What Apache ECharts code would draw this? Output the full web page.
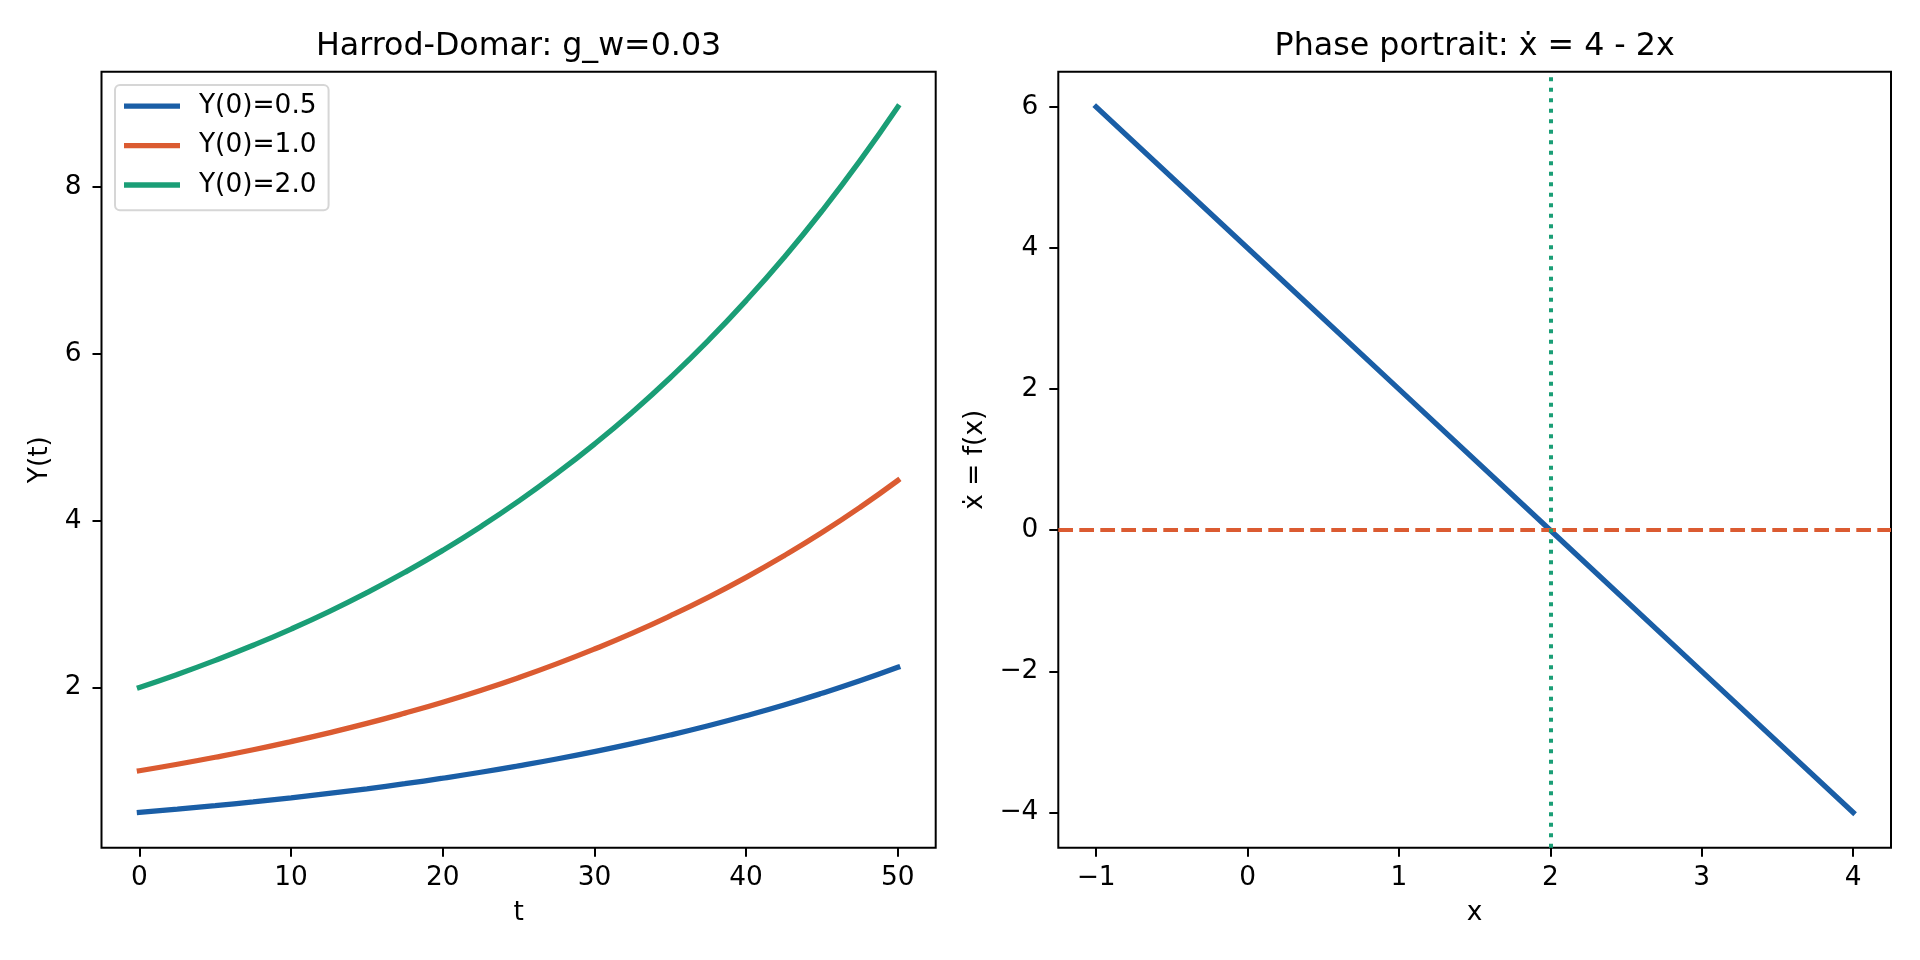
<!DOCTYPE html>
<html>
<head>
<meta charset="utf-8">
<title>Harrod-Domar</title>
<script src="https://cdn.jsdelivr.net/npm/echarts@6.0.0/dist/echarts.min.js"></script>
<style>
  html, body { margin: 0; padding: 0; background: #fff; }
  #main { width: 1920px; height: 960px; }
</style>
</head>
<body>
<div id="main"></div>
<script>
// 左图：时间轴与三条增长曲线
var tValues = [0, 2.5, 5, 7.5, 10, 12.5, 15, 17.5, 20, 22.5, 25, 27.5, 30, 32.5, 35, 37.5, 40, 42.5, 45, 47.5, 50];
var yLow  = [0.500, 0.539, 0.581, 0.626, 0.675, 0.728, 0.784, 0.845, 0.911, 0.982, 1.059, 1.141, 1.230, 1.326, 1.429, 1.540, 1.660, 1.789, 1.929, 2.079, 2.241];
var yMid  = [1.000, 1.078, 1.162, 1.252, 1.350, 1.455, 1.568, 1.691, 1.822, 1.964, 2.117, 2.282, 2.460, 2.651, 2.858, 3.080, 3.320, 3.579, 3.857, 4.158, 4.482];
var yHigh = [2.000, 2.156, 2.324, 2.505, 2.700, 2.910, 3.137, 3.381, 3.644, 3.928, 4.234, 4.564, 4.919, 5.302, 5.715, 6.160, 6.640, 7.157, 7.715, 8.316, 8.963];
var seriesNames = ['Y(0)=0.5', 'Y(0)=1.0', 'Y(0)=2.0'];

// 右图：相图
var xPhase = [-1, 0, 1, 2, 3, 4];
var fPhase = [6, 4, 2, 0, -2, -4];
var equilibriumX = 2;
var zeroLineY = 0;

// 刻度
var tTicks = [0, 10, 20, 30, 40, 50];
var yTicksLeft = [2, 4, 6, 8];
var xTicksRight = [-1, 0, 1, 2, 3, 4];
var yTicksRight = [-4, -2, 0, 2, 4, 6];

var FONT = 'DejaVu Sans';
var BLUE = '#1a5ea6', ORANGE = '#db5b31', GREEN = '#1a9e76';

function pairs(xs, ys) {
    return xs.map(function (x, i) { return [x, ys[i]]; });
}
function minus(v) {
    return String(v).replace('-', '\u2212');
}

function axisCommon(ticks) {
    return {
        type: 'value',
        splitLine: { show: false },
        axisLine: { show: false, onZero: false },
        axisTick: { show: true, customValues: ticks, length: 9, lineStyle: { color: '#000', width: 2 } },
        axisLabel: { customValues: ticks, color: '#000', fontFamily: FONT, fontSize: 26.4, formatter: minus },
        nameLocation: 'middle',
        nameTextStyle: { color: '#000', fontFamily: FONT, fontSize: 26.4 }
    };
}

var echart = echarts.init(document.getElementById('main'));

var xLeft = axisCommon(tTicks);
xLeft.gridIndex = 0; xLeft.min = -2.5; xLeft.max = 52.5;
xLeft.name = 't'; xLeft.nameGap = 52; xLeft.axisLabel.margin = 17;

var yLeft = axisCommon(yTicksLeft);
yLeft.gridIndex = 0; yLeft.min = 0.077; yLeft.max = 9.386;
yLeft.name = 'Y(t)'; yLeft.nameGap = 48; yLeft.axisLabel.margin = 20;

var xRight = axisCommon(xTicksRight);
xRight.gridIndex = 1; xRight.min = -1.25; xRight.max = 4.25;
xRight.name = 'x'; xRight.nameGap = 52; xRight.axisLabel.margin = 17;

var yRight = axisCommon(yTicksRight);
yRight.gridIndex = 1; yRight.min = -4.5; yRight.max = 6.5;
yRight.name = '\u1E8B = f(x)'; yRight.nameGap = 70; yRight.axisLabel.margin = 20;

var lineCurve = function (name, data, color) {
    return {
        name: name, type: 'line', xAxisIndex: 0, yAxisIndex: 0,
        data: pairs(tValues, data), symbol: 'none', smooth: true,
        lineStyle: { color: color, width: 5.3, cap: 'square' },
        itemStyle: { color: color }
    };
};

var option = {
    animation: false,
    backgroundColor: '#fff',
    title: [
        { text: 'Harrod-Domar: g_w=0.03', left: 518.6, top: 31, textAlign: 'center', padding: 0,
          textStyle: { fontFamily: FONT, fontSize: 31.7, fontWeight: 'normal', color: '#000' } },
        { text: 'Phase portrait: \u1E8B = 4 - 2x', left: 1474.7, top: 31, textAlign: 'center', padding: 0,
          textStyle: { fontFamily: FONT, fontSize: 31.7, fontWeight: 'normal', color: '#000' } }
    ],
    legend: {
        data: seriesNames,
        orient: 'vertical',
        left: 115, top: 85,
        padding: [8, 12, 12, 9],
        icon: 'rect',
        itemWidth: 56, itemHeight: 5.3, itemGap: 13,
        selectedMode: false,
        backgroundColor: '#fff',
        borderColor: '#d6d6d6', borderWidth: 2, borderRadius: 5,
        textStyle: { fontFamily: FONT, fontSize: 26.4, color: '#000', lineHeight: 26.4, padding: [0, 0, 0, 14] }
    },
    grid: [
        { left: 101.5, top: 71.7, width: 834.2, height: 776, show: true, borderColor: '#000', borderWidth: 2, backgroundColor: 'transparent' },
        { left: 1058.3, top: 71.7, width: 832.7, height: 776, show: true, borderColor: '#000', borderWidth: 2, backgroundColor: 'transparent' }
    ],
    xAxis: [xLeft, xRight],
    yAxis: [yLeft, yRight],
    series: [
        lineCurve(seriesNames[0], yLow, BLUE),
        lineCurve(seriesNames[1], yMid, ORANGE),
        lineCurve(seriesNames[2], yHigh, GREEN),
        {
            name: 'phase', type: 'line', xAxisIndex: 1, yAxisIndex: 1,
            data: pairs(xPhase, fPhase), symbol: 'none',
            lineStyle: { color: BLUE, width: 5.3, cap: 'square' }
        },
        {
            name: 'zero', type: 'line', xAxisIndex: 1, yAxisIndex: 1, data: [], z: 3,
            markLine: {
                silent: true, symbol: 'none', label: { show: false },
                lineStyle: { color: ORANGE, width: 4, type: [14.7, 6.3], cap: 'butt' },
                data: [{ yAxis: zeroLineY }]
            }
        },
        {
            name: 'equilibrium', type: 'line', xAxisIndex: 1, yAxisIndex: 1, data: [], z: 4,
            markLine: {
                silent: true, symbol: 'none', label: { show: false },
                lineStyle: { color: GREEN, width: 4, type: [4, 6.5], cap: 'butt' },
                data: [{ xAxis: equilibriumX }]
            }
        }
    ]
};

echart.setOption(option);
</script>
</body>
</html>
